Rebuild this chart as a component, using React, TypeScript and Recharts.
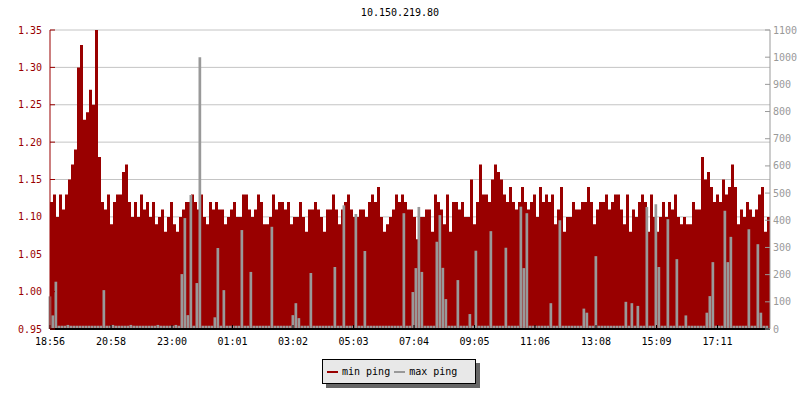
import React from 'react';
import { ComposedChart, Area, Bar, XAxis, YAxis, CartesianGrid } from 'recharts';

const FONT = "'DejaVu Sans Mono', monospace";

const chartTitle = '10.150.219.80';
const seriesNames = ['min ping', 'max ping'];
const seriesColors = ['#990000', '#999999'];

// x tick labels and their offsets in minutes from 18:56
const timeLabels = ['18:56', '20:58', '23:00', '01:01', '03:02', '05:03', '07:04', '09:05', '11:06', '13:08', '15:09', '17:11'];
const timeTickMinutes = [0, 122, 244, 365, 486, 607, 728, 849, 970, 1092, 1213, 1335];
const SPAN_MINUTES = 1440;

const leftTicks = [0.95, 1.0, 1.05, 1.1, 1.15, 1.2, 1.25, 1.3, 1.35];
const rightTicks = [0, 100, 200, 300, 400, 500, 600, 700, 800, 900, 1000, 1100];
const leftMinorTicks = Array.from({ length: 41 }, (_, k) => +(0.95 + k * 0.01).toFixed(2));
const rightMinorTicks = Array.from({ length: 23 }, (_, k) => k * 50);

// min ping (ms), one sample per 6 minutes
const minPing = [
  1.12, 1.13, 1.10, 1.13, 1.11, 1.13, 1.15, 1.17, 1.19, 1.30,
  1.33, 1.23, 1.24, 1.27, 1.25, 1.35, 1.18, 1.12, 1.11, 1.13,
  1.09, 1.12, 1.13, 1.13, 1.16, 1.17, 1.12, 1.10, 1.12, 1.10,
  1.13, 1.11, 1.12, 1.10, 1.12, 1.09, 1.10, 1.11, 1.08, 1.10,
  1.12, 1.09, 1.08, 1.10, 1.11, 1.12, 1.12, 1.13, 1.12, 1.11,
  1.13, 1.10, 1.09, 1.12, 1.11, 1.12, 1.11, 1.11, 1.09, 1.10,
  1.11, 1.12, 1.10, 1.10, 1.13, 1.13, 1.11, 1.10, 1.11, 1.13,
  1.12, 1.09, 1.09, 1.10, 1.13, 1.11, 1.12, 1.12, 1.11, 1.12,
  1.09, 1.10, 1.10, 1.12, 1.10, 1.08, 1.11, 1.11, 1.12, 1.11,
  1.10, 1.08, 1.11, 1.11, 1.13, 1.11, 1.09, 1.11, 1.12, 1.13,
  1.11, 1.10, 1.10, 1.11, 1.11, 1.10, 1.12, 1.13, 1.12, 1.14,
  1.10, 1.08, 1.09, 1.10, 1.11, 1.13, 1.12, 1.13, 1.12, 1.11,
  1.11, 1.10, 1.07, 1.10, 1.10, 1.11, 1.11, 1.08, 1.13, 1.12,
  1.11, 1.09, 1.13, 1.08, 1.12, 1.12, 1.11, 1.12, 1.10, 1.10,
  1.15, 1.09, 1.12, 1.17, 1.13, 1.13, 1.12, 1.15, 1.17, 1.16,
  1.15, 1.13, 1.12, 1.14, 1.12, 1.11, 1.12, 1.14, 1.12, 1.11,
  1.12, 1.13, 1.10, 1.14, 1.12, 1.13, 1.12, 1.13, 1.09, 1.11,
  1.14, 1.08, 1.10, 1.10, 1.12, 1.11, 1.11, 1.12, 1.12, 1.14,
  1.12, 1.09, 1.11, 1.12, 1.12, 1.13, 1.11, 1.12, 1.13, 1.13,
  1.11, 1.09, 1.13, 1.08, 1.11, 1.10, 1.12, 1.13, 1.12, 1.08,
  1.13, 1.10, 1.08, 1.10, 1.12, 1.10, 1.12, 1.11, 1.13, 1.10,
  1.09, 1.10, 1.09, 1.09, 1.12, 1.11, 1.11, 1.18, 1.15, 1.16,
  1.14, 1.12, 1.13, 1.12, 1.15, 1.13, 1.14, 1.17, 1.14, 1.09,
  1.11, 1.10, 1.12, 1.11, 1.10, 1.11, 1.13, 1.14, 1.08, 1.10,
];

// max ping (ms), same samples
const maxPing = [
  120, 50, 174, 12, 12, 12, 15, 12, 12, 12,
  12, 12, 12, 12, 12, 12, 12, 12, 143, 12,
  12, 15, 12, 12, 12, 12, 12, 15, 12, 12,
  12, 12, 12, 12, 12, 12, 15, 12, 12, 12,
  12, 12, 15, 12, 202, 408, 51, 493, 12, 169,
  1000, 12, 12, 12, 12, 43, 298, 12, 143, 12,
  12, 12, 12, 12, 364, 12, 12, 210, 12, 12,
  12, 12, 12, 12, 376, 12, 12, 12, 12, 12,
  12, 51, 95, 40, 12, 12, 12, 206, 12, 12,
  12, 12, 12, 12, 12, 228, 12, 12, 455, 12,
  12, 12, 423, 12, 12, 287, 12, 12, 12, 12,
  12, 12, 12, 12, 12, 12, 12, 12, 426, 12,
  12, 136, 224, 449, 210, 12, 12, 12, 12, 321,
  419, 225, 110, 12, 12, 12, 180, 12, 12, 12,
  55, 12, 288, 12, 12, 12, 12, 360, 12, 12,
  12, 12, 299, 12, 12, 12, 12, 450, 224, 426,
  12, 12, 12, 12, 12, 12, 12, 95, 12, 12,
  400, 12, 12, 12, 12, 12, 12, 12, 75, 60,
  12, 12, 268, 12, 12, 12, 12, 12, 12, 12,
  12, 12, 100, 12, 95, 12, 85, 12, 12, 449,
  12, 12, 459, 228, 12, 12, 404, 12, 12, 257,
  12, 12, 50, 12, 12, 12, 12, 12, 12, 60,
  121, 246, 12, 12, 12, 435, 246, 339, 12, 12,
  12, 12, 12, 367, 12, 12, 312, 60, 12, 12,
];

const STEP = SPAN_MINUTES / minPing.length;

const rows: Array<{ t: number; min: number; max?: number }> = [
  ...minPing.map((v, i) => ({ t: i * STEP, min: v, max: maxPing[i] })),
  { t: SPAN_MINUTES, min: minPing[minPing.length - 1] },
];

const tickFont = { fontSize: 10, fontFamily: FONT };

export default function App() {
  return (
    <div style={{ position: 'absolute', left: 0, top: 0, width: 800, height: 400, background: '#fff', fontFamily: FONT }}>
      <div style={{ position: 'absolute', top: 7, left: 0, width: 800, textAlign: 'center', fontSize: 10, lineHeight: '12px', color: '#000' }}>
        {chartTitle}
      </div>
      <ComposedChart width={800} height={400} data={rows} margin={{ top: 30, right: 0, bottom: 41, left: 0 }}>
        <CartesianGrid yAxisId="left" vertical={false} stroke="#c4c4c4" />
        <XAxis
          dataKey="t"
          type="number"
          domain={[0, SPAN_MINUTES]}
          ticks={timeTickMinutes}
          interval={0}
          tickFormatter={(v: number) => timeLabels[timeTickMinutes.indexOf(v)]}
          height={30}
          axisLine={{ stroke: '#000', strokeWidth: 2 }}
          tickLine={{ stroke: '#000' }}
          tickSize={-4}
          tickMargin={13}
          tick={{ ...tickFont, fill: '#000' }}
        />
        <YAxis
          yAxisId="leftMinor"
          orientation="left"
          type="number"
          width={0}
          domain={[0.95, 1.35]}
          ticks={leftMinorTicks}
          interval={0}
          tick={false}
          tickSize={-3}
          axisLine={false}
          tickLine={{ stroke: '#990000' }}
        />
        <YAxis
          yAxisId="rightMinor"
          orientation="right"
          type="number"
          width={0}
          domain={[0, 1100]}
          ticks={rightMinorTicks}
          interval={0}
          tick={false}
          tickSize={-3}
          axisLine={false}
          tickLine={{ stroke: '#999' }}
        />
        <YAxis
          yAxisId="left"
          orientation="left"
          type="number"
          width={50}
          domain={[0.95, 1.35]}
          ticks={leftTicks}
          interval={0}
          tickFormatter={(v: number) => v.toFixed(2)}
          axisLine={{ stroke: '#990000' }}
          tickLine={{ stroke: '#990000' }}
          tickSize={-5}
          tickMargin={13}
          tick={{ ...tickFont, fill: '#990000' }}
        />
        <YAxis
          yAxisId="right"
          orientation="right"
          type="number"
          width={30}
          domain={[0, 1100]}
          ticks={rightTicks}
          interval={0}
          axisLine={{ stroke: '#999' }}
          tickLine={{ stroke: '#999' }}
          tickSize={-5}
          tickMargin={8}
          tick={{ ...tickFont, fill: '#999' }}
        />
        <Area
          yAxisId="left"
          dataKey="min"
          name={seriesNames[0]}
          type="stepAfter"
          fill={seriesColors[0]}
          fillOpacity={1}
          stroke="none"
          dot={false}
          activeDot={false}
          isAnimationActive={false}
        />
        <Bar
          yAxisId="right"
          dataKey="max"
          name={seriesNames[1]}
          fill={seriesColors[1]}
          barSize={3}
          isAnimationActive={false}
        />
      </ComposedChart>
      <div
        style={{
          position: 'absolute',
          left: 322,
          top: 359,
          width: 154,
          height: 25,
          boxSizing: 'border-box',
          background: '#e8e8e8',
          border: '1px solid #000',
          boxShadow: '4px 4px 0 #666',
          display: 'flex',
          alignItems: 'center',
          paddingLeft: 4,
          fontSize: 10,
          color: '#000',
        }}
      >
        {seriesNames.map((name, i) => (
          <div key={name} style={{ display: 'flex', alignItems: 'center', marginRight: 4 }}>
            <span style={{ display: 'inline-block', width: 11, height: 2, background: seriesColors[i], marginRight: 4 }} />
            <span>{name}</span>
          </div>
        ))}
      </div>
    </div>
  );
}
